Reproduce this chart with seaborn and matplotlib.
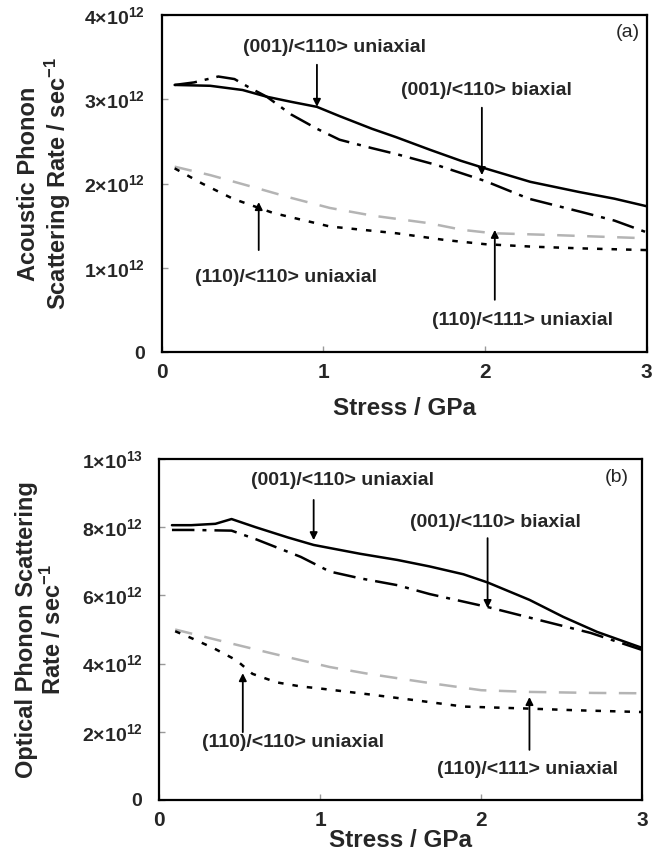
import matplotlib
matplotlib.use("Agg")
from matplotlib import pyplot as plt
from matplotlib.ticker import FuncFormatter, FixedLocator
import seaborn as sns
import pandas as pd
import numpy as np

# values in units of 1e12 s^-1, stress in GPa
# panel (a): acoustic phonon
a_uni001_x = [0.08, 0.3, 0.5, 0.65, 0.8, 0.96, 1.1, 1.3, 1.45, 1.66, 1.85, 2.0, 2.28, 2.58, 2.8, 3.0]
a_uni001_y = [3.17, 3.16, 3.11, 3.03, 2.97, 2.91, 2.8, 2.65, 2.55, 2.40, 2.27, 2.18, 2.02, 1.90, 1.82, 1.73]
a_bi001_x = [0.08, 0.2, 0.35, 0.45, 0.55, 0.65, 0.8, 0.96, 1.1, 1.3, 1.45, 1.7, 2.0, 2.27, 2.6, 2.8, 3.0]
a_bi001_y = [3.17, 3.2, 3.27, 3.24, 3.13, 3.03, 2.82, 2.65, 2.52, 2.42, 2.35, 2.22, 2.03, 1.82, 1.66, 1.56, 1.42]
a_uni111_x = [0.08, 0.3, 0.58, 0.8, 1.04, 1.3, 1.65, 1.86, 2.05, 2.4, 2.7, 3.0]
a_uni111_y = [2.2, 2.1, 1.95, 1.83, 1.71, 1.62, 1.53, 1.45, 1.41, 1.39, 1.37, 1.35]
a_uni110_x = [0.08, 0.25, 0.44, 0.69, 1.04, 1.45, 1.75, 2.0, 2.3, 2.6, 3.0]
a_uni110_y = [2.18, 2.0, 1.82, 1.65, 1.49, 1.41, 1.33, 1.28, 1.25, 1.23, 1.21]

# panel (b): optical phonon
b_uni001_x = [0.08, 0.2, 0.35, 0.45, 0.6, 0.8, 0.96, 1.06, 1.25, 1.48, 1.68, 1.89, 2.04, 2.3, 2.51, 2.72, 3.0]
b_uni001_y = [8.06, 8.06, 8.1, 8.24, 8.0, 7.7, 7.48, 7.39, 7.22, 7.04, 6.85, 6.62, 6.38, 5.87, 5.37, 4.93, 4.46]
b_bi001_x = [0.08, 0.2, 0.45, 0.6, 0.88, 1.06, 1.25, 1.48, 1.68, 2.04, 2.3, 2.68, 3.0]
b_bi001_y = [7.92, 7.92, 7.9, 7.65, 7.13, 6.7, 6.5, 6.3, 6.04, 5.66, 5.35, 4.9, 4.4]
b_uni111_x = [0.1, 0.44, 0.7, 1.06, 1.3, 1.68, 2.0, 2.3, 2.7, 3.0]
b_uni111_y = [5.0, 4.6, 4.3, 3.9, 3.7, 3.43, 3.22, 3.17, 3.14, 3.13]
b_uni110_x = [0.1, 0.2, 0.34, 0.48, 0.58, 0.73, 0.88, 1.0, 1.3, 1.6, 1.89, 2.3, 2.6, 3.0]
b_uni110_y = [4.95, 4.75, 4.45, 4.1, 3.7, 3.45, 3.33, 3.27, 3.1, 2.92, 2.74, 2.68, 2.63, 2.58]

curves = ["uni001", "bi001", "uni111", "uni110"]
labels = {
    "uni001": "(001)/<110> uniaxial",
    "bi001": "(001)/<110> biaxial",
    "uni111": "(110)/<111> uniaxial",
    "uni110": "(110)/<110> uniaxial",
}

rows = []
for panel, src in [("a", {
        "uni001": (a_uni001_x, a_uni001_y), "bi001": (a_bi001_x, a_bi001_y),
        "uni111": (a_uni111_x, a_uni111_y), "uni110": (a_uni110_x, a_uni110_y)}),
        ("b", {
        "uni001": (b_uni001_x, b_uni001_y), "bi001": (b_bi001_x, b_bi001_y),
        "uni111": (b_uni111_x, b_uni111_y), "uni110": (b_uni110_x, b_uni110_y)})]:
    for c in curves:
        xs, ys = src[c]
        for x, y in zip(xs, ys):
            rows.append(dict(panel=panel, curve=c, stress=x, rate=y * 1e12))
df = pd.DataFrame(rows)

sns.set_style("white")
plt.rcParams["font.family"] = ["Liberation Sans", "DejaVu Sans"]
plt.rcParams["font.weight"] = "bold"
plt.rcParams["mathtext.fontset"] = "custom"
plt.rcParams["mathtext.rm"] = "Liberation Sans:bold"
plt.rcParams["mathtext.it"] = "Liberation Sans:bold"
plt.rcParams["mathtext.bf"] = "Liberation Sans:bold"

palette = {"uni001": "black", "bi001": "black", "uni111": "#b4b4b4", "uni110": "black"}
dashes = {"uni001": "", "bi001": (9, 3.2, 1.6, 3.2), "uni111": (7, 5), "uni110": (2.2, 3.6)}


def sci_fmt(v, pos):
    if v == 0:
        return "0"
    e = int(np.floor(np.log10(v) + 1e-9))
    m = int(round(v / 10 ** e))
    return f"{m}×10$^{{{e}}}$"


fig = plt.figure(figsize=(6.6, 8.58), dpi=100)
ax_a = fig.add_axes([0.245, 0.5897, 0.735, 0.3928])
ax_b = fig.add_axes([0.241, 0.0676, 0.732, 0.3974])

panels = {
    "a": dict(ax=ax_a, ymax=4e12, yticks=[0, 1e12, 2e12, 3e12, 4e12],
              ylabel="Acoustic Phonon\nScattering Rate / sec$^{-1}$", ylx=-0.182,
              xlpad=11,
              tag="(a)", tagpos=(2.88, 3.79),
              notes=[("uni001", (1.07, 3.62), 0.96, 3.41, 2.91),
                     ("bi001", (2.01, 3.11), 1.98, 2.90, 2.10),
                     ("uni110", (0.77, 0.89), 0.60, 1.21, 1.78),
                     ("uni111", (2.23, 0.38), 2.06, 0.62, 1.45)]),
    "b": dict(ax=ax_b, ymax=1e13, yticks=[0, 2e12, 4e12, 6e12, 8e12, 1e13],
              ylabel="Optical Phonon Scattering\nRate / sec$^{-1}$", ylx=-0.192,
              xlpad=-1,
              tag="(b)", tagpos=(2.84, 9.47),
              notes=[("uni001", (1.14, 9.38), 0.96, 8.80, 7.62),
                     ("bi001", (2.09, 8.15), 2.04, 7.68, 5.63),
                     ("uni110", (0.83, 1.70), 0.52, 1.99, 3.72),
                     ("uni111", (2.29, 0.88), 2.30, 1.47, 3.02)]),
}

for key, p in panels.items():
    ax = p["ax"]
    sns.lineplot(
        data=df[df.panel == key],
        x="stress",
        y="rate",
        hue="curve",
        style="curve",
        palette=palette,
        dashes=dashes,
        estimator=None,
        sort=False,
        linewidth=1.8,
        legend=False,
        ax=ax,
    )
    ax.set_xlim(0, 3)
    ax.set_ylim(0, p["ymax"])
    ax.xaxis.set_major_locator(FixedLocator([0, 1, 2, 3]))
    ax.yaxis.set_major_locator(FixedLocator(p["yticks"]))
    ax.yaxis.set_major_formatter(FuncFormatter(sci_fmt))
    ax.tick_params(axis="x", direction="in", length=4, width=1, color="0.6",
                   bottom=True, labelsize=15, pad=8)
    ax.tick_params(axis="y", direction="in", length=4, width=1, color="0.6",
                   left=True, labelsize=14, pad=12)
    for s in ax.spines.values():
        s.set_color("black")
        s.set_linewidth(1.6)
    ax.set_xlabel("Stress / GPa", fontsize=17.5, fontweight="bold", labelpad=p["xlpad"])
    ax.set_ylabel(p["ylabel"], fontsize=17, fontweight="bold", linespacing=1.15)
    ax.yaxis.set_label_coords(p["ylx"], 0.5)

    for c, (tx, ty), ax_x, y0, y1 in p["notes"]:
        ax.text(tx, ty * 1e12, labels[c], ha="center", va="center",
                fontsize=14, fontweight="bold")
        ax.annotate("", xy=(ax_x, y1 * 1e12), xytext=(ax_x, y0 * 1e12),
                    arrowprops=dict(arrowstyle="-|>", color="black", lw=1.3,
                                    mutation_scale=11, shrinkA=0, shrinkB=0))
    ax.text(p["tagpos"][0], p["tagpos"][1] * 1e12, p["tag"], ha="center",
            va="center", fontsize=14, fontweight="normal")

fig.savefig("out.png", dpi=100)
